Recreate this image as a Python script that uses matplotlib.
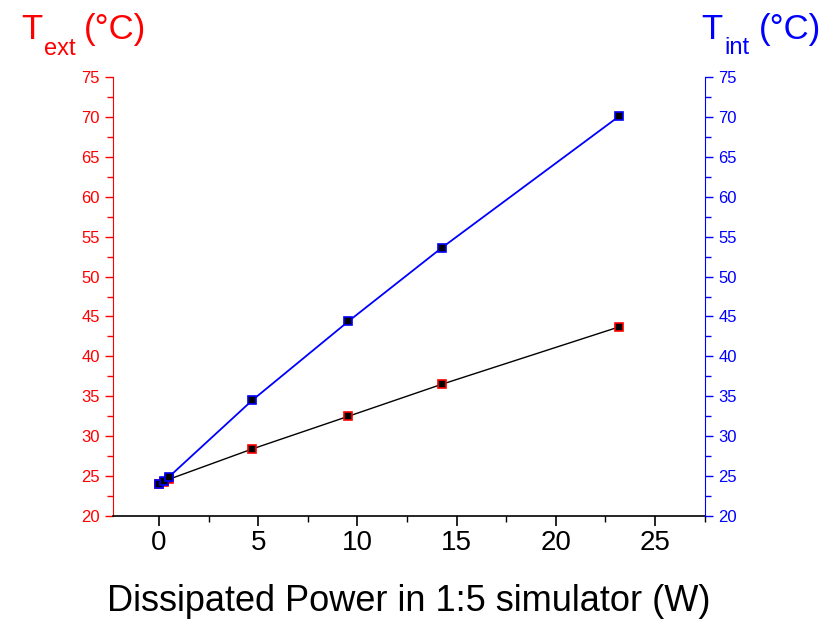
import matplotlib
matplotlib.use("Agg")
import matplotlib.pyplot as plt
from matplotlib.ticker import MultipleLocator

plt.rcParams['font.family'] = ['Liberation Sans', 'DejaVu Sans']

power = [0.0, 0.25, 0.5, 4.7, 9.55, 14.25, 23.2]
t_ext = [24.0, 24.3, 24.6, 28.4, 32.5, 36.5, 43.7]
t_int = [24.0, 24.4, 24.9, 34.5, 44.4, 53.6, 70.1]

W, H = 836, 620
fig = plt.figure(figsize=(W/100, H/100), dpi=100)
ax = fig.add_axes([113/W, 1-516/H, (705-113)/W, (516-77)/H])
ax2 = ax.twinx()

ax.plot(power, t_ext, color='black', lw=1, marker='s', ms=6.3, mfc='black', mec='red', mew=1.2, zorder=3)
ax2.plot(power, t_int, color='blue', lw=1.3, marker='s', ms=6.3, mfc='black', mec='blue', mew=1.2, zorder=3)

ax.set_xlim(-2.32, 27.52)
ax.set_ylim(20, 75)
ax2.set_ylim(20, 75)

for a in (ax, ax2):
    a.spines['top'].set_visible(False)
ax.spines['left'].set_color('red')
ax.spines['right'].set_visible(False)
ax2.spines['left'].set_visible(False)
ax2.spines['right'].set_color('blue')
ax2.spines['bottom'].set_visible(False)
ax.spines['bottom'].set_linewidth(1.2)

ax.xaxis.set_major_locator(MultipleLocator(5))
ax.xaxis.set_minor_locator(MultipleLocator(2.5))
ax.yaxis.set_major_locator(MultipleLocator(5))
ax.yaxis.set_minor_locator(MultipleLocator(2.5))
ax2.yaxis.set_major_locator(MultipleLocator(5))
ax2.yaxis.set_minor_locator(MultipleLocator(2.5))

ax.tick_params(axis='x', which='major', direction='out', length=7, width=1.2, labelsize=20, pad=3)
ax.tick_params(axis='x', which='minor', direction='out', length=4, width=1)
ax.tick_params(axis='y', which='major', direction='out', length=6, width=1, colors='red', labelsize=12)
ax.tick_params(axis='y', which='minor', direction='out', length=4, width=1, colors='red')
ax2.tick_params(axis='y', which='major', direction='out', length=6, width=1, colors='blue', labelsize=12)
ax2.tick_params(axis='y', which='minor', direction='out', length=4, width=1, colors='blue')

ax.set_xlabel('Dissipated Power in 1:5 simulator (W)', fontsize=26)
ax.xaxis.set_label_coords(409/W, 1-611/H, transform=fig.transFigure)
ax.xaxis.label.set_va('baseline')

def px(x, y):
    return x/W, 1-y/H

fig.text(*px(21, 39), 'T', color='red', fontsize=25, va='baseline', ha='left')
fig.text(*px(44, 55), 'ext', color='red', fontsize=17, va='baseline', ha='left')
fig.text(*px(84, 39), '(°C)', color='red', fontsize=25, va='baseline', ha='left')

fig.text(*px(701, 39), 'T', color='blue', fontsize=25, va='baseline', ha='left')
fig.text(*px(724, 54), 'int', color='blue', fontsize=17, va='baseline', ha='left')
fig.text(*px(759, 39), '(°C)', color='blue', fontsize=25, va='baseline', ha='left')

fig.savefig('out.png', dpi=100)
